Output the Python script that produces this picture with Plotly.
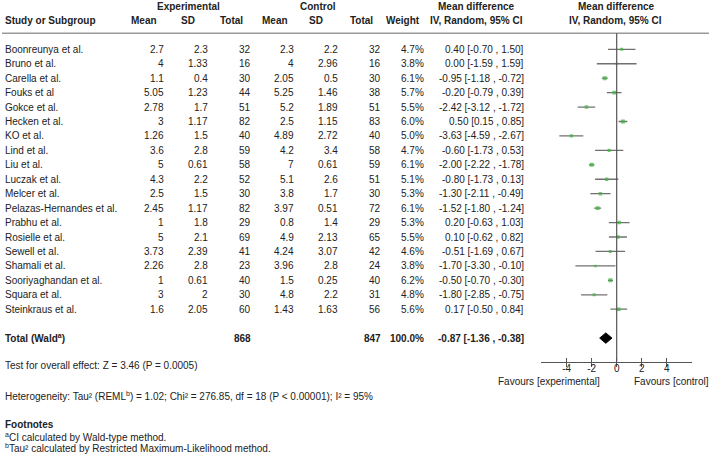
import plotly.graph_objects as go

studies = ["Boonreunya et al.", "Bruno et al.", "Carella et al.", "Fouks et al", "Gokce et al.",
           "Hecken et al.", "KO et al.", "Lind et al.", "Liu et al.", "Luczak et al.", "Melcer et al.",
           "Pelazas-Hernandes et al.", "Prabhu et al.", "Rosielle et al.", "Sewell et al.",
           "Shamali et al.", "Sooriyaghandan et al.", "Squara et al.", "Steinkraus et al."]
exp_mean = ["2.7", "4", "1.1", "5.05", "2.78", "3", "1.26", "3.6", "5", "4.3", "2.5", "2.45", "1", "5",
            "3.73", "2.26", "1", "3", "1.6"]
exp_sd = ["2.3", "1.33", "0.4", "1.23", "1.7", "1.17", "1.5", "2.8", "0.61", "2.2", "1.5", "1.17", "1.8",
          "2.1", "2.39", "2.8", "0.61", "2", "2.05"]
exp_n = [32, 16, 30, 44, 51, 82, 40, 59, 58, 52, 30, 82, 29, 69, 41, 23, 40, 30, 60]
ctl_mean = ["2.3", "4", "2.05", "5.25", "5.2", "2.5", "4.89", "4.2", "7", "5.1", "3.8", "3.97", "0.8",
            "4.9", "4.24", "3.96", "1.5", "4.8", "1.43"]
ctl_sd = ["2.2", "2.96", "0.5", "1.46", "1.89", "1.15", "2.72", "3.4", "0.61", "2.6", "1.7", "0.51", "1.4",
          "2.13", "3.07", "2.8", "0.25", "2.2", "1.63"]
ctl_n = [32, 16, 30, 38, 51, 83, 40, 58, 59, 51, 30, 72, 29, 65, 42, 24, 40, 31, 56]
weight = [4.7, 3.8, 6.1, 5.7, 5.5, 6.0, 5.0, 4.7, 6.1, 5.1, 5.3, 6.1, 5.3, 5.5, 4.6, 3.8, 6.2, 4.8, 5.6]
md = [0.40, 0.00, -0.95, -0.20, -2.42, 0.50, -3.63, -0.60, -2.00, -0.80, -1.30, -1.52, 0.20, 0.10,
      -0.51, -1.70, -0.50, -1.80, 0.17]
lo = [-0.70, -1.59, -1.18, -0.79, -3.12, 0.15, -4.59, -1.73, -2.22, -1.73, -2.11, -1.80, -0.63, -0.62,
      -1.69, -3.30, -0.70, -2.85, -0.50]
hi = [1.50, 1.59, -0.72, 0.39, -1.72, 0.85, -2.67, 0.53, -1.78, 0.13, -0.49, -1.24, 1.03, 0.82,
      0.67, -0.10, -0.30, -0.75, 0.84]
total_weight = 100.0
total_md, total_lo, total_hi = -0.87, -1.36, -0.38
tick_vals = [-4, -2, 0, 2, 4]

W, H = 709, 461
FONT = "Arial, Liberation Sans, sans-serif"
TXT = "#222222"
FS = 10


def px(x):
    return x / W


def py(y):
    return 1 - y / H


rows = list(range(len(studies)))
total_row = len(studies) + 1

fig = go.Figure()

# study CIs and point estimates
fig.add_trace(go.Scatter(
    x=md, y=rows, mode="markers",
    marker=dict(symbol="square", size=[w * 0.65 for w in weight], color="#3cb43c", line=dict(width=0)),
    error_x=dict(type="data", symmetric=False,
                 array=[h - m for h, m in zip(hi, md)],
                 arrayminus=[m - l for m, l in zip(md, lo)],
                 width=0, color="#707070", thickness=1.3),
    showlegend=False, hoverinfo="skip", xaxis="x", yaxis="y"))

# overall diamond
dh = 0.36
fig.add_trace(go.Scatter(
    x=[total_lo, total_md, total_hi, total_md, total_lo],
    y=[total_row, total_row - dh, total_row, total_row + dh, total_row],
    mode="lines", fill="toself", fillcolor="black", line=dict(color="black", width=1),
    showlegend=False, hoverinfo="skip", xaxis="x", yaxis="y"))

axis_px = 361.7
xdom = [px(540.7), px(692.3)]
xr = [-6.08, 6.05]
fig.update_layout(
    width=W, height=H, autosize=False,
    margin=dict(l=0, r=0, t=0, b=0),
    paper_bgcolor="white", plot_bgcolor="rgba(0,0,0,0)",
    xaxis=dict(domain=xdom, range=xr, anchor="free", position=py(axis_px),
               showgrid=False, zeroline=False, showline=True, linecolor="#555555", linewidth=1.2,
               tickmode="array", tickvals=tick_vals, ticktext=[str(v) for v in tick_vals],
               ticks="outside", ticklen=4, tickcolor="#555555", tickwidth=1.2,
               ticklabelstandoff=-7,
               tickfont=dict(family=FONT, size=FS, color=TXT)),
    xaxis2=dict(domain=xdom, range=xr, anchor="free", position=py(axis_px), overlaying="x",
                showgrid=False, zeroline=False, showline=False,
                tickmode="array", tickvals=tick_vals, ticks="inside", ticklen=4,
                tickcolor="#555555", tickwidth=1.2, showticklabels=False),
    yaxis=dict(domain=[0, 1], range=[(H - 49.3) / 14.44, (0 - 49.3) / 14.44], autorange=False,
               visible=False),
)
# invisible trace so that xaxis2 renders its inner tick marks
fig.add_trace(go.Scatter(x=[0], y=[0], xaxis="x2", yaxis="y", mode="markers",
                         marker=dict(opacity=0), showlegend=False, hoverinfo="skip"))

shapes = []
# header rule
shapes.append(dict(type="line", xref="paper", yref="paper", x0=px(2), x1=px(709), y0=py(33.3), y1=py(33.3),
                   line=dict(color="#9a9a9a", width=1.6)))
# zero line
shapes.append(dict(type="line", xref="x", yref="paper", x0=0, x1=0, y0=py(33.3), y1=py(axis_px),
                   line=dict(color="#555555", width=1.2)))
fig.update_layout(shapes=shapes)

ann = []


def T(text, x, y, xanchor="right", yref="y", bold=False, size=FS):
    if bold:
        text = "<b>" + text + "</b>"
    ann.append(dict(text=text, x=x, y=y, xref="paper", yref=yref, xanchor=xanchor, yanchor="middle",
                    showarrow=False, font=dict(family=FONT, size=size, color=TXT)))


# headers
T("Experimental", px(189), py(6.5), "center", "paper", True)
T("Control", px(317.5), py(6.5), "center", "paper", True)
T("Mean difference", px(476.7), py(6.5), "center", "paper", True)
T("Mean difference", px(616), py(6.5), "center", "paper", True)
T("Study or Subgroup", px(2.5), py(21), "left", "paper", True)
for label, cx in [("Mean", 144), ("SD", 188.5), ("Total", 231.5), ("Mean", 274.5), ("SD", 316),
                  ("Total", 361.5), ("Weight", 403), ("IV, Random, 95% CI", 476.7),
                  ("IV, Random, 95% CI", 615.5)]:
    T(label, px(cx), py(21), "center", "paper", True)

# study rows
for i in rows:
    T(studies[i], px(2.5), i, "left")
    T(exp_mean[i], px(166), i)
    T(exp_sd[i], px(209.8), i)
    T(str(exp_n[i]), px(252.5), i)
    T(ctl_mean[i], px(296.3), i)
    T(ctl_sd[i], px(339.5), i)
    T(str(ctl_n[i]), px(382.5), i)
    T(f"{weight[i]:.1f}%", px(426.3), i)
    T(f"{md[i]:.2f} [{lo[i]:.2f} , {hi[i]:.2f}]", px(526.3), i)

# total row
T("Total (Wald<sup>a</sup>)", px(2.5), total_row, "left", bold=True)
T(str(sum(exp_n)), px(252.5), total_row, bold=True)
T(str(sum(ctl_n)), px(382.5), total_row, bold=True)
T(f"{total_weight:.1f}%", px(426.3), total_row, bold=True)
T(f"{total_md:.2f} [{total_lo:.2f} , {total_hi:.2f}]", px(526.3), total_row, bold=True)

# favours labels
T("Favours [experimental]", px(601.7), py(381.5), "right", "paper")
T("Favours [control]", px(631.5), py(381.5), "left", "paper")

# footer text
T("Test for overall effect: Z = 3.46 (P = 0.0005)", px(2.5), py(365.7), "left", "paper")
T("Heterogeneity: Tau² (REML<sup>b</sup>) = 1.02; Chi² = 276.85, df = 18 (P &lt; 0.00001); I² = 95%",
  px(2.5), py(395.7), "left", "paper")
T("Footnotes", px(2.5), py(424.3), "left", "paper", True)
T("<sup>a</sup>CI calculated by Wald-type method.", px(2.5), py(436.7), "left", "paper")
T("<sup>b</sup>Tau² calculated by Restricted Maximum-Likelihood method.", px(2.5), py(448), "left", "paper")

fig.update_layout(annotations=ann)
fig.write_html("out.html")
